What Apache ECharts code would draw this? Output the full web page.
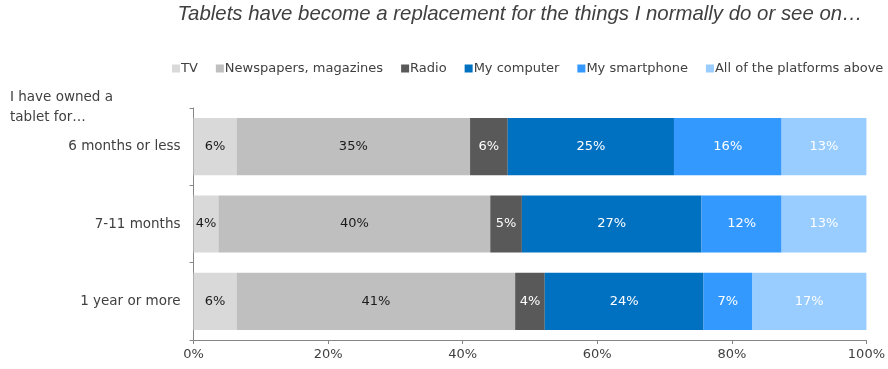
<!DOCTYPE html>
<html><head><meta charset="utf-8">
<script src="https://cdn.jsdelivr.net/npm/echarts@6/dist/echarts.min.js"></script>
<style>html,body{margin:0;padding:0;background:#fff}#c{width:888px;height:369px}</style>
</head><body><div id="c"></div>
<script>
const categories = ['6 months or less', '7-11 months', '1 year or more'];
const seriesNames = ['TV', 'Newspapers, magazines', 'Radio', 'My computer', 'My smartphone', 'All of the platforms above'];
const tv = [6.4, 3.7, 6.4];
const newspapers = [34.7, 40.4, 41.4];
const radio = [5.6, 4.7, 4.4];
const computer = [24.7, 26.7, 23.6];
const smartphone = [16.0, 11.9, 7.2];
const allPlatforms = [12.6, 12.6, 17.0];
const xTicks = [0, 20, 40, 60, 80, 100];

const colors = ['#d9d9d9', '#bfbfbf', '#595959', '#0070c0', '#3399ff', '#99ccff'];
const labelColors = ['#1a1a1a', '#1a1a1a', '#ffffff', '#ffffff', '#ffffff', '#ffffff'];
const values = [tv, newspapers, radio, computer, smartphone, allPlatforms];
const FONT = 'DejaVu Sans';

const chart = echarts.init(document.getElementById('c'));
chart.setOption({
  animation: false,
  title: [
    { text: 'Tablets have become a replacement for the things I normally do or see on\u2026',
      left: 520, textAlign: 'center', top: 4, padding: 0,
      textStyle: { fontFamily: 'Liberation Sans', fontStyle: 'italic', fontWeight: 'normal', fontSize: 20.4, color: '#404040' } },
    { text: 'I have owned a\ntablet for\u2026', left: 10, top: 87, padding: 0,
      textStyle: { fontFamily: FONT, fontWeight: 'normal', fontSize: 13.5, lineHeight: 20, color: '#404040' } }
  ],
  legend: {
    data: seriesNames, left: 172, top: 62, width: 760, padding: 0, itemWidth: 8, itemHeight: 8, itemGap: 18,
    icon: 'rect', textStyle: { fontFamily: FONT, fontSize: 13, color: '#404040', padding: [0, 0, 0, -4] }
  },
  grid: { left: 193.5, right: 19.5, top: 108, bottom: 29 },
  xAxis: {
    type: 'value', min: xTicks[0], max: xTicks[xTicks.length - 1], interval: 20,
    axisLine: { show: true, lineStyle: { color: '#868686' } },
    axisTick: { show: true, length: 4, lineStyle: { color: '#868686' } },
    splitLine: { show: false },
    axisLabel: { formatter: '{value}%', fontFamily: FONT, fontSize: 13, color: '#404040', margin: 8 }
  },
  yAxis: {
    type: 'category', data: categories, inverse: true,
    axisLine: { show: true, lineStyle: { color: '#868686' } },
    axisTick: { show: true, length: 4, lineStyle: { color: '#868686' } },
    axisLabel: { fontFamily: FONT, fontSize: 13.5, color: '#404040', margin: 13 }
  },
  series: seriesNames.map((n, i) => ({
    name: n, type: 'bar', stack: 'total', barWidth: '74%',
    data: values[i],
    itemStyle: { color: colors[i] },
    label: { show: true, position: 'inside', formatter: p => Math.round(p.value) + '%',
      fontFamily: FONT, fontSize: 13, color: labelColors[i] }
  }))
});
</script></body></html>
